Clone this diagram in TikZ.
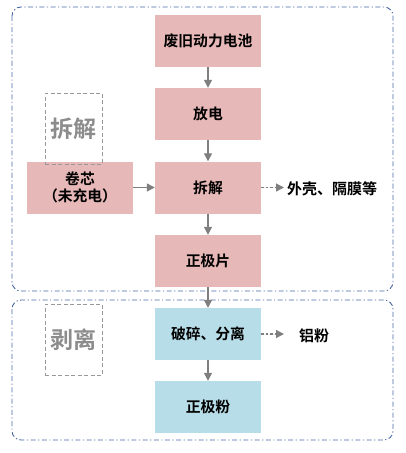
\documentclass[tikz,border=0pt]{standalone}
\usepackage{fontspec}
\setmainfont{Liberation Sans}
\newfontfamily\cjkb{Noto Sans CJK SC Bold}
\usetikzlibrary{arrows.meta}
\definecolor{pinkbox}{HTML}{E6B8B7}
\definecolor{bluebox}{HTML}{B7DDE8}
\definecolor{framec}{HTML}{4A68A6}
\definecolor{arrowc}{HTML}{7F7F7F}
\definecolor{labelc}{HTML}{8C8C8C}
\tikzset{
  x=1pt, y=-1pt,
  stepbox/.style={minimum width=106pt, minimum height=52pt, inner sep=0pt, font=\cjkb\fontsize{14.8}{17}\selectfont, align=center},
  pinkstep/.style={stepbox, fill=pinkbox},
  bluestep/.style={stepbox, fill=bluebox},
  frame/.style={draw=framec, line width=0.9pt, dash pattern=on 5pt off 2.5pt on 1.2pt off 2.5pt, rounded corners=9pt},
  tagbox/.style={draw=gray!80, dash pattern=on 4pt off 2.5pt, line width=0.8pt, minimum width=57pt, minimum height=71pt, inner sep=0pt, text=labelc, font=\cjkb\fontsize{23}{25}\selectfont},
  flow/.style={-{Triangle[length=8pt,width=8pt]}, draw=arrowc, fill=arrowc, line width=1.3pt},
  sideflow/.style={flow, dash pattern=on 2.5pt off 2pt},
  outtext/.style={font=\cjkb\fontsize{15}{17}\selectfont, anchor=west, inner sep=0pt}
}
\begin{document}
\begin{tikzpicture}
\useasboundingbox (0,0) rectangle (405,453);
\draw[frame] (12,7) rectangle (393,291);
\draw[frame] (12,300) rectangle (393,440);

\node[pinkstep] (n1) at (208,41) {废旧动力电池};
\node[pinkstep] (n2) at (208,114) {放电};
\node[pinkstep] (n3) at (208,187.5) {拆解};
\node[pinkstep] (n4) at (208,261) {正极片};
\node[bluestep] (n5) at (208,334) {破碎、分离};
\node[bluestep] (n6) at (208,407) {正极粉};
\node[pinkstep] (core) at (80,187.5) {卷芯\\（未充电）};

\node[tagbox] (t1) at (73.5,128.5) {拆解};
\node[tagbox] (t2) at (73.5,339.5) {剥离};

\coordinate (o1) at (284,187.5);
\coordinate (o2) at (284,334);
\node[outtext] (out1) at (287,189) {外壳、隔膜等};
\node[outtext, anchor=center] (out2) at (314,336) {铝粉};

\draw[flow] (n1) -- (n2);
\draw[flow] (n2) -- (n3);
\draw[flow] (n3) -- (n4);
\draw[flow] (n4) -- (n5);
\draw[flow] (n5) -- (n6);
\draw[flow] (core) -- (n3);
\draw[sideflow] (n3.east) -- (o1);
\draw[sideflow] (n5.east) -- (o2);
\end{tikzpicture}
\end{document}
